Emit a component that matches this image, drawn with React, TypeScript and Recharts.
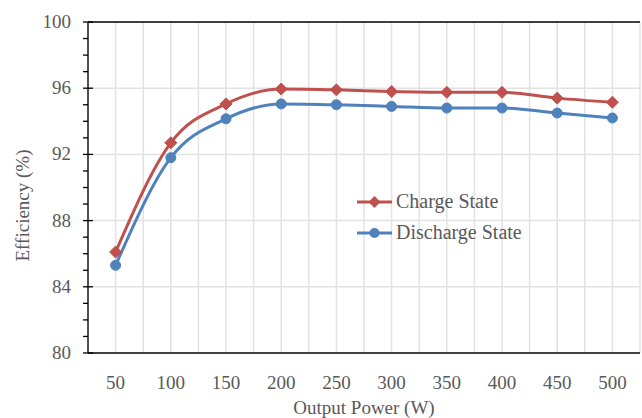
import {
  LineChart,
  Line,
  XAxis,
  YAxis,
  CartesianGrid,
  Legend,
  ReferenceLine,
} from "recharts";

const outputPower = [50, 100, 150, 200, 250, 300, 350, 400, 450, 500];
const chargeEff = [86.1, 92.7, 95.05, 95.95, 95.9, 95.8, 95.75, 95.75, 95.4, 95.15];
const dischargeEff = [85.3, 91.8, 94.15, 95.05, 95.0, 94.9, 94.8, 94.8, 94.5, 94.2];

const xTicks = [25, 50, 75, 100, 125, 150, 175, 200, 225, 250, 275, 300, 325, 350, 375, 400, 425, 450, 475, 500, 525];
const yTicks = [80, 81, 82, 83, 84, 85, 86, 87, 88, 89, 90, 91, 92, 93, 94, 95, 96, 97, 98, 99, 100];
const yMajor = [80, 84, 88, 92, 96, 100];

const data = outputPower.map((p, i) => ({
  power: p,
  charge: chargeEff[i],
  discharge: dischargeEff[i],
}));

const RED = "#C0504D";
const BLUE = "#4F81BD";
const TEXT = "#595959";
const FONT = "'Liberation Serif', 'Times New Roman', serif";
const FS = 19;
const AXIS_X = 88;

function XTick({ x, y, payload }: any) {
  const v = payload.value;
  if (!outputPower.includes(v)) return null;
  return (
    <text x={x} y={y + 34} textAnchor="middle" fill={TEXT} fontSize={FS} fontFamily={FONT}>
      {v}
    </text>
  );
}

function YTick({ y, payload }: any) {
  const v = payload.value;
  const major = yMajor.includes(v);
  return (
    <g>
      <line x1={AXIS_X - 5} x2={major ? AXIS_X + 5 : AXIS_X} y1={y} y2={y} stroke="#000" strokeWidth={1.3} />
      {major && (
        <text x={AXIS_X - 17} y={y + 6} textAnchor="end" fill={TEXT} fontSize={FS} fontFamily={FONT}>
          {v}
        </text>
      )}
    </g>
  );
}

function Diamond({ cx, cy }: any) {
  const s = 6;
  return (
    <path
      d={`M${cx},${cy - s}L${cx + s},${cy}L${cx},${cy + s}L${cx - s},${cy}Z`}
      fill={RED}
      stroke={RED}
    />
  );
}

function Circle({ cx, cy }: any) {
  return <circle cx={cx} cy={cy} r={5} fill={BLUE} stroke={BLUE} />;
}

function LegendBox() {
  const rows = [
    { name: "Charge State", color: RED, diamond: true },
    { name: "Discharge State", color: BLUE, diamond: false },
  ];
  return (
    <svg width={200} height={60} style={{ display: "block" }}>
      {rows.map((r, i) => {
        const cy = 13 + i * 31;
        return (
          <g key={r.name}>
            <line x1={2} x2={37} y1={cy} y2={cy} stroke={r.color} strokeWidth={3} />
            {r.diamond ? (
              <path d={`M19.5,${cy - 6}L25.5,${cy}L19.5,${cy + 6}L13.5,${cy}Z`} fill={r.color} />
            ) : (
              <circle cx={19.5} cy={cy} r={5} fill={r.color} />
            )}
            <text x={41} y={cy + 6} fill={TEXT} fontSize={20} fontFamily={FONT}>
              {r.name}
            </text>
          </g>
        );
      })}
    </svg>
  );
}

export default function App() {
  return (
    <div style={{ position: "absolute", left: 0, top: 0, background: "#fff" }}>
      <LineChart width={642} height={418} data={data} margin={{ top: 22, right: 2, left: 0, bottom: 0 }}>
        <CartesianGrid
          stroke="#e2e2e2"
          strokeWidth={1.5}
          horizontalValues={[84, 88, 92, 96]}
          verticalValues={xTicks}
        />
        <XAxis
          dataKey="power"
          type="number"
          domain={[25, 525]}
          ticks={xTicks}
          interval={0}
          height={65}
          tickLine={false}
          tickSize={0}
          axisLine={{ stroke: "#000", strokeWidth: 1.3 }}
          tick={<XTick />}
          label={{
            value: "Output Power (W)",
            position: "insideBottom",
            offset: 4,
            style: { fill: TEXT, fontSize: FS, fontFamily: FONT },
          }}
        />
        <YAxis
          type="number"
          domain={[80, 100]}
          ticks={yTicks}
          interval={0}
          width={88}
          tickLine={false}
          tickSize={0}
          axisLine={{ stroke: "#000", strokeWidth: 1.3 }}
          tick={<YTick />}
          label={{
            value: "Efficiency (%)",
            angle: -90,
            position: "center",
            dx: -22,
            dy: 18,
            style: { fill: TEXT, fontSize: FS, fontFamily: FONT },
          }}
        />
        <ReferenceLine y={100} stroke="#000" strokeWidth={1.3} />
        <Legend
          layout="horizontal"
          verticalAlign="middle"
          align="center"
          wrapperStyle={{ left: 355, top: 189, width: 200 }}
          content={<LegendBox />}
        />
        <Line
          type="monotone"
          dataKey="charge"
          name="Charge State"
          stroke={RED}
          strokeWidth={3}
          dot={(p: any) => <Diamond {...p} key={`d-${p.index}`} />}
          isAnimationActive={false}
        />
        <Line
          type="monotone"
          dataKey="discharge"
          name="Discharge State"
          stroke={BLUE}
          strokeWidth={3}
          dot={(p: any) => <Circle {...p} key={`c-${p.index}`} />}
          isAnimationActive={false}
        />
      </LineChart>
    </div>
  );
}
